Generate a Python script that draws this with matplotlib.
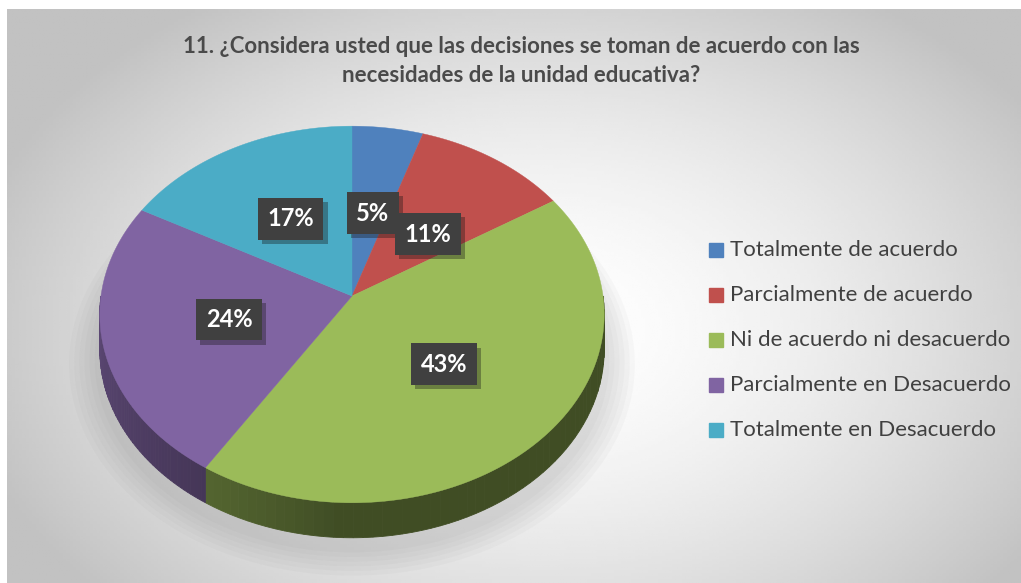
import numpy as np
import matplotlib.pyplot as plt
import matplotlib.patheffects as pe
from matplotlib.colors import to_rgb

# Data
labels = ["Totalmente de acuerdo", "Parcialmente de acuerdo", "Ni de acuerdo ni desacuerdo",
          "Parcialmente en Desacuerdo", "Totalmente en Desacuerdo"]
values = [5, 11, 43, 24, 17]
colors = ["#4f81bd", "#c0504d", "#9bbb59", "#8064a2", "#4bacc6"]
title = "11. ¿Considera usted que las decisiones se toman de acuerdo con las\nnecesidades de la unidad educativa?"

plt.rcParams['font.family'] = ['Lato', 'DejaVu Sans']

W, H = 1021, 583
fig = plt.figure(figsize=(W / 100, H / 100), dpi=100)
ax = fig.add_axes([0, 0, 1, 1])
ax.set_xlim(0, W)
ax.set_ylim(H, 0)
ax.axis('off')

# background panel with radial gradient
gx, gy = np.meshgrid(np.linspace(7, W, 300), np.linspace(9, H, 200))
d = np.sqrt(((gx - 540) / 620) ** 2 + ((gy - 330) / 420) ** 2)
shade = np.clip(1 - 0.26 * d ** 1.6, 0.76, 1)
ax.imshow(shade, cmap='gray', vmin=0, vmax=1, extent=[7, W, H, 9], aspect='auto', zorder=0)

# 3D pie geometry (simple perspective)
cx, cy, R, k, dist, depth = 352, 296, 251, 0.743, 10.2, 35


def proj(theta, r=1.0):
    u, v = r * np.sin(theta), r * np.cos(theta)
    s = dist / (dist + v)
    return cx + R * u * s, cy - R * k * v * s


# soft shadow under the pie
t = np.linspace(0, 2 * np.pi, 200)
for i in range(6):
    px, py = proj(t, 1.0 + 0.02 * (6 - i))
    ax.fill(px, py + depth + 10, color='#707070', alpha=0.04, lw=0, zorder=1)

fr = np.array(values) / sum(values)
edges = np.concatenate([[0], np.cumsum(fr)]) * 2 * np.pi

# sides (front half only)
for i in range(len(values)):
    a0, a1 = max(edges[i], np.pi / 2), min(edges[i + 1], 3 * np.pi / 2)
    if a1 <= a0:
        continue
    base = np.array(to_rgb(colors[i]))
    n = 60
    ts = np.linspace(a0, a1, n + 1)
    for j in range(n):
        tt = np.linspace(ts[j], ts[j + 1], 4)
        px, py = proj(tt)
        mid = 0.5 * (ts[j] + ts[j + 1])
        # lighter toward the left
        f = 0.41 + 0.31 * np.clip((mid - 3.2) / 1.5, 0, 1) ** 0.8
        c = base * f
        ax.fill(np.concatenate([px, px[::-1]]), np.concatenate([py, py[::-1] + depth]),
                color=c, lw=0.6, ec=c, zorder=2)

# top faces
for i in range(len(values)):
    tt = np.linspace(edges[i], edges[i + 1], 200)
    px, py = proj(tt)
    ax.fill(np.concatenate([[cx], px]), np.concatenate([[cy], py]), color=colors[i],
            lw=0.3, ec=colors[i], zorder=3)

# data labels
for i in range(len(values)):
    mid = 0.5 * (edges[i] + edges[i + 1])
    lx, ly = proj(mid, 0.5)
    if i == 0:
        lx, ly = lx + 2, ly + 5
    if i == 1:
        lx, ly = lx + 2, ly + 9
    ax.text(lx, ly, f"{values[i]}%", ha='center', va='center', color='white',
            fontsize=17, fontweight='bold', zorder=5,
            bbox=dict(boxstyle='square,pad=0.4', fc='#404040', ec='none',
                      path_effects=[pe.SimplePatchShadow(offset=(3, -3), alpha=0.35), pe.Normal()]))

# title
ax.text(521, 61, title, ha='center', va='center', fontsize=16, fontweight='bold',
        color='#4a4a4a', linespacing=1.45, zorder=5)

# legend
for i, lab in enumerate(labels):
    y = 250 + 45 * i
    ax.add_patch(plt.Rectangle((709, y - 7), 14, 14, color=colors[i], zorder=5))
    ax.text(730, y, lab, ha='left', va='center', fontsize=16, color='#404040', zorder=5)

fig.savefig("out.png", dpi=100)
